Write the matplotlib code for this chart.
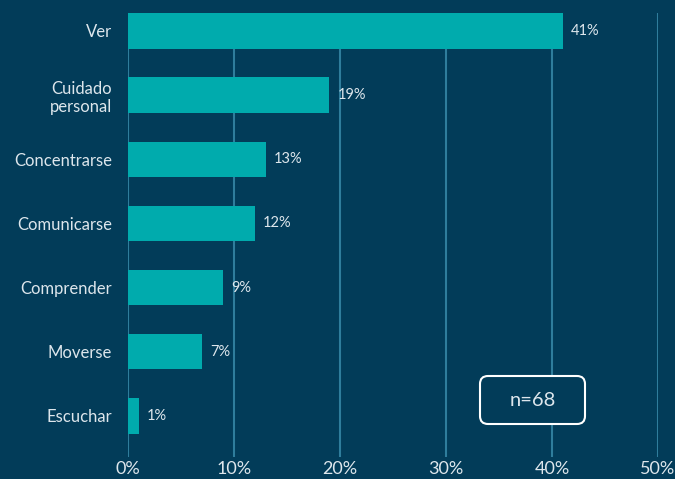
import matplotlib
matplotlib.use("Agg")
import matplotlib.pyplot as plt
from matplotlib.patches import FancyBboxPatch
from matplotlib.transforms import IdentityTransform

categories = ["Ver", "Cuidado\npersonal", "Concentrarse", "Comunicarse", "Comprender", "Moverse", "Escuchar"]
values = [41, 19, 13, 12, 9, 7, 1]
xticks = [0, 10, 20, 30, 40, 50]
xtick_labels = ["0%", "10%", "20%", "30%", "40%", "50%"]
note = "n=68"

BG = "#023c59"
BAR = "#00abad"
GRID = "#2f7d9c"
TXT = "#dde6ec"

plt.rcParams['font.family'] = ['Lato', 'DejaVu Sans']

W, H = 675, 479
fig = plt.figure(figsize=(W/100, H/100), dpi=100, facecolor=BG)
ax = fig.add_axes([128/W, 1-457/H, (658-128)/W, (457-13)/H])
ax.set_facecolor(BG)

y = list(range(len(categories)))
ax.barh(y, values, height=0.55, color=BAR, zorder=3)
for yi, v in zip(y, values):
    ax.text(v + 0.75, yi, f"{v}%", va="center", ha="left", color=TXT, fontsize=10.5)

ax.set_xlim(0, 50)
ax.set_ylim(6.64, -0.28)
ax.set_xticks(xticks)
ax.set_xticklabels(xtick_labels, color=TXT, fontsize=13)
ax.set_yticks(y)
ax.set_yticklabels(categories, color=TXT, fontsize=12, linespacing=1.2)
ax.tick_params(axis="y", length=0, pad=11.5)
ax.tick_params(axis="x", length=0, pad=3)
ax.grid(axis="x", color=GRID, linewidth=1.5, zorder=0)
for s in ax.spines.values():
    s.set_visible(False)

# n box in pixel coordinates
bx0, bx1, by0, by1 = 480, 585, H - 424, H - 376
box = FancyBboxPatch((bx0, by0), bx1 - bx0, by1 - by0,
                     boxstyle="round,pad=0,rounding_size=8",
                     transform=IdentityTransform(), facecolor=BG,
                     edgecolor="white", linewidth=1.5, zorder=5)
fig.patches.append(box)
fig.text((bx0 + bx1) / 2 / W, (by0 + by1) / 2 / H, note, ha="center", va="center",
         color=TXT, fontsize=14.5, zorder=6)

fig.savefig("out.png", dpi=100, facecolor=BG)
